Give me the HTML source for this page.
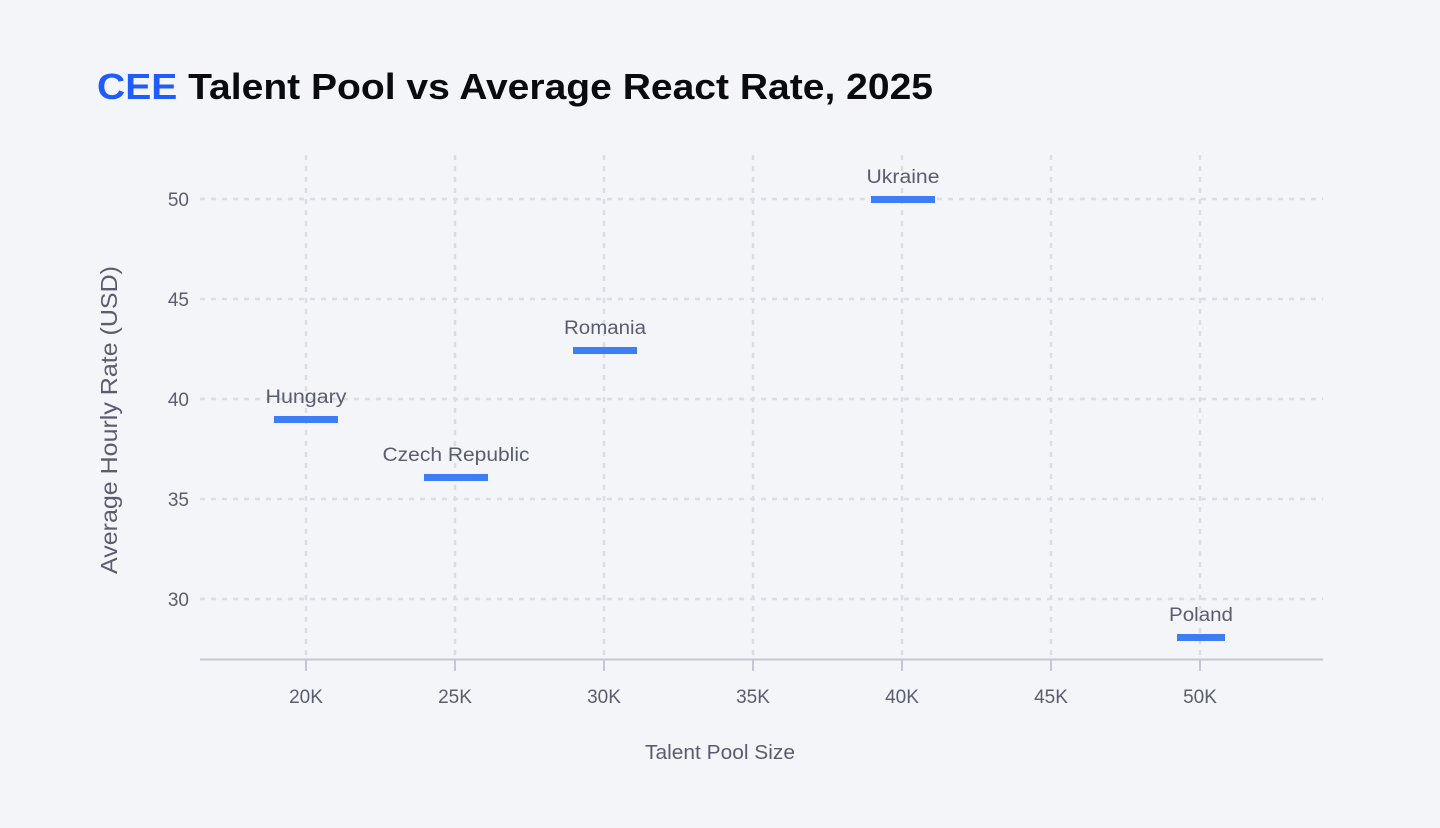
<!DOCTYPE html>
<html><head><meta charset="utf-8"><style>
html,body{margin:0;padding:0;background:#f4f5f9;}
svg{display:block}
</style></head><body>
<svg width="1440" height="828" viewBox="0 0 1440 828" xmlns="http://www.w3.org/2000/svg" font-family="Liberation Sans, sans-serif">
<rect width="1440" height="828" fill="#f4f5f9"/>
<text x="97" y="99" font-size="36" font-weight="bold" textLength="836" lengthAdjust="spacingAndGlyphs" fill="#0b0b0f"><tspan fill="#1f5cff">CEE</tspan> Talent Pool vs Average React Rate, 2025</text>
<g stroke="#dcdde3" stroke-width="2.5" stroke-dasharray="5 6">
<line x1="200" y1="199" x2="1323" y2="199"/>
<line x1="200" y1="299" x2="1323" y2="299"/>
<line x1="200" y1="399" x2="1323" y2="399"/>
<line x1="200" y1="499" x2="1323" y2="499"/>
<line x1="200" y1="599" x2="1323" y2="599"/>
<line x1="306" y1="155" x2="306" y2="659"/>
<line x1="455" y1="155" x2="455" y2="659"/>
<line x1="604" y1="155" x2="604" y2="659"/>
<line x1="753" y1="155" x2="753" y2="659"/>
<line x1="902" y1="155" x2="902" y2="659"/>
<line x1="1051" y1="155" x2="1051" y2="659"/>
<line x1="1200" y1="155" x2="1200" y2="659"/>
</g>
<g stroke="#c3c8d4" stroke-width="2">
<line x1="200" y1="659.5" x2="1323" y2="659.5"/>
<line x1="306" y1="659" x2="306" y2="671"/>
<line x1="455" y1="659" x2="455" y2="671"/>
<line x1="604" y1="659" x2="604" y2="671"/>
<line x1="753" y1="659" x2="753" y2="671"/>
<line x1="902" y1="659" x2="902" y2="671"/>
<line x1="1051" y1="659" x2="1051" y2="671"/>
<line x1="1200" y1="659" x2="1200" y2="671"/>
</g>
<g font-size="19" fill="#5a5d6e" text-anchor="end">
<text x="189" y="206">50</text>
<text x="189" y="306">45</text>
<text x="189" y="406">40</text>
<text x="189" y="506">35</text>
<text x="189" y="606">30</text>
</g>
<g font-size="19" fill="#5a5d6e" text-anchor="middle">
<text x="306" y="703">20K</text>
<text x="455" y="703">25K</text>
<text x="604" y="703">30K</text>
<text x="753" y="703">35K</text>
<text x="902" y="703">40K</text>
<text x="1051" y="703">45K</text>
<text x="1200" y="703">50K</text>
<text x="720" y="759" font-size="20" textLength="150" lengthAdjust="spacingAndGlyphs">Talent Pool Size</text>
<text transform="translate(117,420) rotate(-90)" font-size="23" textLength="308" lengthAdjust="spacingAndGlyphs">Average Hourly Rate (USD)</text>
</g>
<g fill="#3d7ef8">
<rect x="871" y="196" width="64" height="7"/>
<rect x="573" y="347" width="64" height="7"/>
<rect x="274" y="416" width="64" height="7"/>
<rect x="424" y="474" width="64" height="7"/>
<rect x="1177" y="634" width="48" height="7"/>
</g>
<g font-size="19" fill="#5a5d6e" text-anchor="middle">
<text x="903" y="183" textLength="73" lengthAdjust="spacingAndGlyphs">Ukraine</text>
<text x="605" y="334" textLength="82" lengthAdjust="spacingAndGlyphs">Romania</text>
<text x="306" y="403" textLength="81" lengthAdjust="spacingAndGlyphs">Hungary</text>
<text x="456" y="461" textLength="147" lengthAdjust="spacingAndGlyphs">Czech Republic</text>
<text x="1201" y="621" textLength="64" lengthAdjust="spacingAndGlyphs">Poland</text>
</g>
</svg>
</body></html>
